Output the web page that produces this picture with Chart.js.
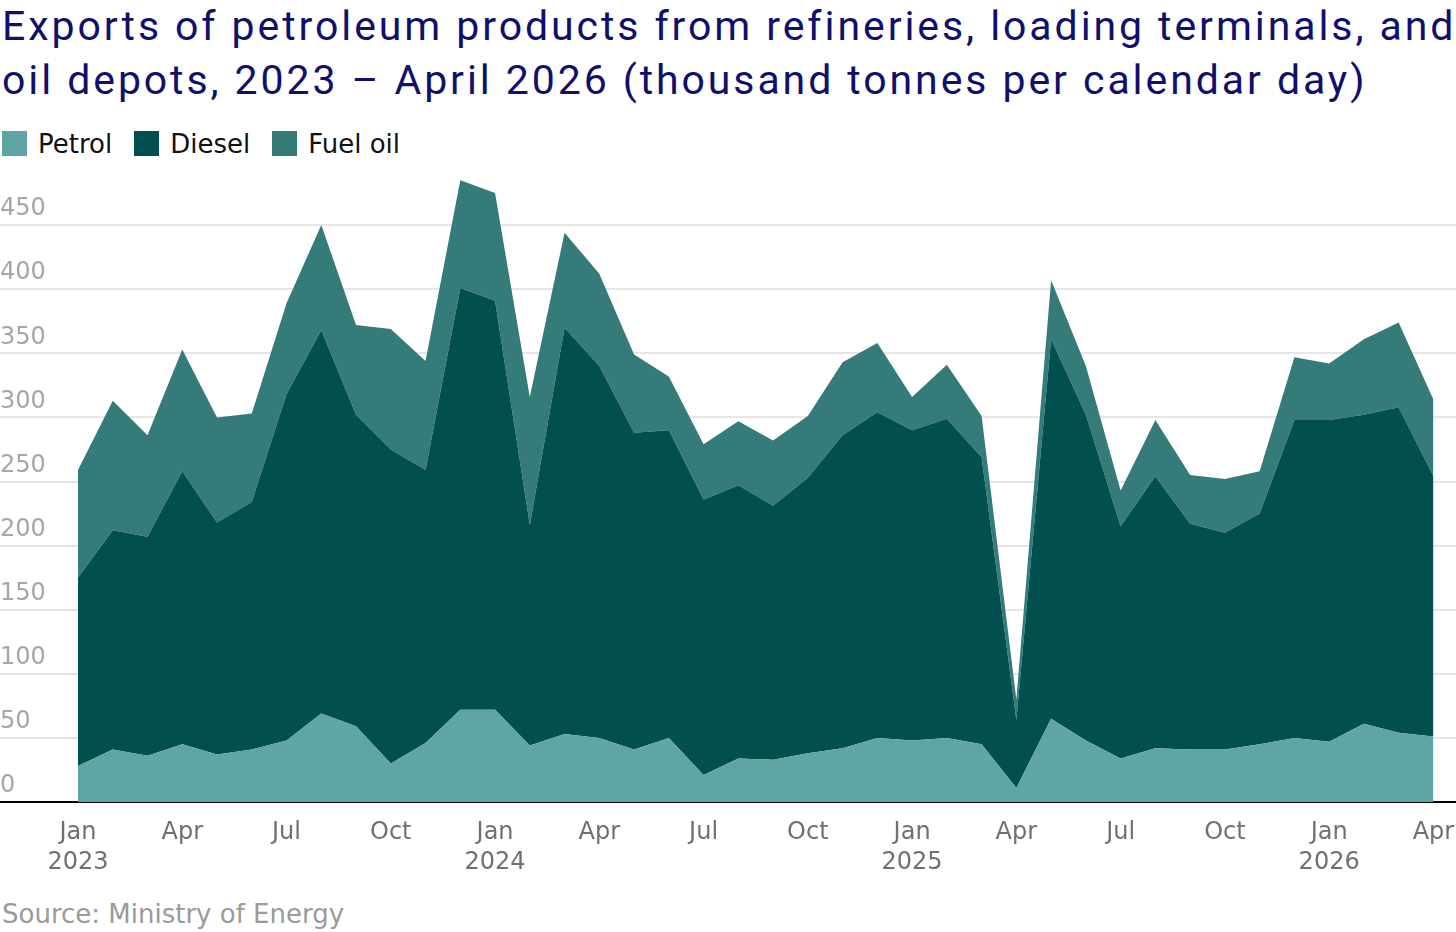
<!DOCTYPE html>
<html lang="en">
<head>
  <meta charset="UTF-8" />
  <title>Exports of petroleum products</title>
  <script src="https://cdn.jsdelivr.net/npm/chart.js"></script>
  <style>
    html, body { margin: 0; padding: 0; background: #fff; }
    body { width: 1456px; height: 932px; position: relative; overflow: hidden; font-family: "DejaVu Sans", sans-serif; }
    .title {
      position: absolute; left: 2px; top: -1px;
      font-family: Roboto, sans-serif;
      font-size: 41px; line-height: 54px; color: #10106c;
      white-space: nowrap; margin: 0; font-weight: normal;
    }
    .legend { position: absolute; left: 2px; top: 131px; display: flex; align-items: center; }
    .legend-item { display: flex; align-items: center; margin-right: 22px; }
    .legend-box { width: 25px; height: 25px; margin-right: 11px; }
    .legend-label { font-size: 26px; color: #111; line-height: 25px; position: relative; top: 1px; }
    .chart-wrap { position: absolute; left: 0; top: 161px; width: 1456px; height: 719px; }
    .source { position: absolute; left: 2px; top: 899px; font-size: 26px; line-height: 30px; color: #9a9a9a; }
  </style>
</head>
<body>
  <h1 class="title"><span class="tline">Exports of petroleum products from refineries, loading terminals, and</span><br><span class="tline">oil depots, 2023 – April 2026 (thousand tonnes per calendar day)</span></h1>
  <div class="legend" id="legend"></div>
  <div class="chart-wrap"><canvas id="areaChart"></canvas></div>
  <div class="source">Source: Ministry of Energy</div>

  <script>
    // months Jan 2023 .. Apr 2026
    const months = [
      'Jan 2023', 'Feb 2023', 'Mar 2023', 'Apr 2023', 'May 2023', 'Jun 2023',
      'Jul 2023', 'Aug 2023', 'Sep 2023', 'Oct 2023', 'Nov 2023', 'Dec 2023',
      'Jan 2024', 'Feb 2024', 'Mar 2024', 'Apr 2024', 'May 2024', 'Jun 2024',
      'Jul 2024', 'Aug 2024', 'Sep 2024', 'Oct 2024', 'Nov 2024', 'Dec 2024',
      'Jan 2025', 'Feb 2025', 'Mar 2025', 'Apr 2025', 'May 2025', 'Jun 2025',
      'Jul 2025', 'Aug 2025', 'Sep 2025', 'Oct 2025', 'Nov 2025', 'Dec 2025',
      'Jan 2026', 'Feb 2026', 'Mar 2026', 'Apr 2026'
    ];

    const petrol = [28, 41, 36, 45, 37, 41, 48, 69, 59, 30, 46, 72,
                    72, 44, 53, 50, 41, 50, 21, 34, 33, 38, 42, 50,
                    48, 50, 45, 11, 65, 48, 34, 42, 41, 41, 45, 50,
                    47, 61, 54, 51];
    const diesel = [147, 171, 171, 213, 181, 193, 270, 299, 243, 245, 213, 329,
                    319, 172, 317, 290, 247, 240, 215, 213, 198, 215, 244, 254,
                    242, 249, 224, 53, 296, 254, 181, 212, 176, 169, 180, 248,
                    251, 241, 254, 203];
    const fuelOil = [84, 101, 79, 95, 82, 69, 71, 82, 70, 94, 85, 84,
                     84, 100, 74, 72, 61, 42, 43, 50, 51, 48, 57, 54,
                     26, 42, 32, 16, 46, 38, 28, 44, 38, 42, 33, 49,
                     44, 59, 66, 60];

    const seriesNames = ['Petrol', 'Diesel', 'Fuel oil'];
    const seriesColors = ['#60a5a5', '#024f50', '#357b7a'];
    const yTicks = [0, 50, 100, 150, 200, 250, 300, 350, 400, 450];

    function toPoints(arr) {
      return arr.map(function(v, i) { return { x: i, y: v }; });
    }

    // stretch the title's first line to the full width, like the original
    var lines = document.querySelectorAll('.tline');
    var w = lines[0].getBoundingClientRect().width;
    var n = lines[0].textContent.length;
    document.querySelector('.title').style.letterSpacing = ((1450 - w) / (n - 1)).toFixed(2) + 'px';

    // html legend
    var legend = document.getElementById('legend');
    seriesNames.forEach(function(name, i) {
      var item = document.createElement('div');
      item.className = 'legend-item';
      item.innerHTML = '<span class="legend-box" style="background:' + seriesColors[i] + '"></span>' +
                       '<span class="legend-label">' + name + '</span>';
      legend.appendChild(item);
    });

    var ctx = document.getElementById('areaChart').getContext('2d');
    new Chart(ctx, {
      type: 'line',
      data: {
        datasets: [petrol, diesel, fuelOil].map(function(arr, i) {
          return {
            label: seriesNames[i],
            data: toPoints(arr),
            backgroundColor: seriesColors[i],
            borderColor: seriesColors[i],
            borderWidth: 0,
            pointRadius: 0,
            tension: 0,
            fill: i === 0 ? 'origin' : '-1'
          };
        })
      },
      options: {
        responsive: true,
        maintainAspectRatio: false,
        animation: false,
        layout: { padding: 0 },
        plugins: { legend: { display: false }, tooltip: { enabled: false } },
        scales: {
          x: {
            type: 'linear',
            min: 0,
            max: 39.65,
            z: 1,
            grid: { display: false, drawTicks: false },
            border: { display: true, color: '#000', width: 2 },
            ticks: {
              stepSize: 3,
              autoSkip: false,
              maxRotation: 0,
              includeBounds: false,
              padding: 16,
              color: '#707070',
              font: { family: 'DejaVu Sans', size: 24, lineHeight: 1.25 },
              callback: function(value) {
                if (!Number.isInteger(value) || value % 3 !== 0 || !months[value]) return '';
                var parts = months[value].split(' ');
                return parts[0] === 'Jan' ? parts : parts[0];
              }
            },
            afterFit: function(scale) {
              scale.height = 78;
              scale.paddingLeft = 0;
              scale.paddingRight = 0;
            }
          },
          y: {
            stacked: true,
            min: 0,
            max: 500,
            border: { display: false },
            grid: {
              tickLength: 78,
              color: function(c) {
                if (c.tick.value === 0) return '#000';
                if (yTicks.indexOf(c.tick.value) === -1) return 'rgba(0,0,0,0)';
                return '#e6e6e6';
              },
              lineWidth: 2
            },
            ticks: {
              stepSize: 50,
              crossAlign: 'far',
              labelOffset: -16,
              padding: 0,
              color: '#a6a6a6',
              font: { family: 'DejaVu Sans', size: 24 },
              callback: function(value) {
                return yTicks.indexOf(value) === -1 ? '' : value;
              }
            },
            afterFit: function(scale) {
              scale.width = 78;
              scale.paddingTop = 0;
              scale.paddingBottom = 0;
            }
          }
        }
      }
    });
  </script>
</body>
</html>
